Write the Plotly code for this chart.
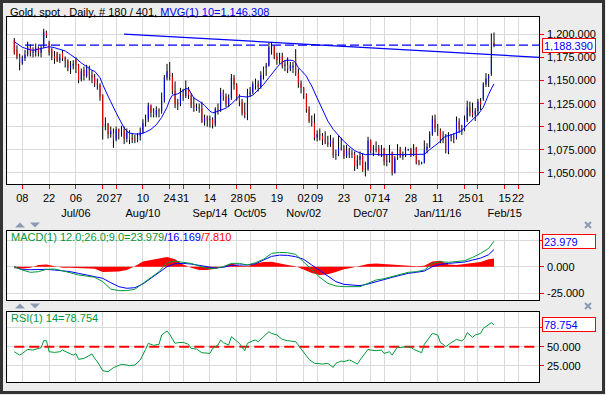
import plotly.graph_objects as go
import pandas as pd

# ---------------- data ----------------
START = "2015-06-03"          # first daily bar
AXIS_END = "2016-03-04"       # axis runs past the last bar

OPEN = [1194,1183,1176,1169,1174,1178,1186,1180,1181,1185,1180,1187,1202,1191,1184,1176,1180,1172,1180,1175,
        1171,1163,1166,1173,1167,1151,1161,1155,1162,1156,1153,1147,1145,1134,1100,1103,1092,1093,1086,1097,
        1094,1096,1087,1094,1088,1086,1085,1090,1094,1104,1108,1123,1115,1113,1118,1117,1128,1153,1160,1154,
        1139,1126,1124,1134,1133,1140,1134,1123,1119,1121,1120,1105,1110,1107,1108,1102,1119,1118,1137,1133,
        1124,1131,1153,1145,1133,1127,1115,1113,1135,1137,1144,1146,1143,1156,1164,1166,1186,1187,1176,1172,
        1176,1166,1167,1162,1164,1174,1158,1147,1142,1135,1119,1106,1104,1088,1092,1090,1086,1083,1081,1085,
        1069,1070,1077,1076,1068,1074,1071,1070,1057,1064,1068,1053,1054,1085,1074,1075,1076,1071,1076,1062,
        1063,1072,1050,1066,1075,1068,1069,1074,1075,1069,1077,1061,1060,1061,1075,1078,1092,1108,1098,1096,
        1086,1087,1073,1088,1089,1088,1106,1096,1097,1107,1121,1115,1113,1117,1127,1130,1146,1152,1157,1191]
HIGH = [1196,1188,1179,1177,1183,1192,1189,1186,1190,1187,1188,1206,1204,1193,1185,1182,1181,1179,1183,1176,
        1173,1171,1172,1175,1168,1163,1165,1167,1166,1161,1157,1152,1147,1135,1110,1104,1100,1098,1100,1098,
        1101,1100,1098,1096,1093,1091,1093,1099,1108,1113,1126,1124,1120,1122,1120,1137,1156,1168,1170,1158,
        1149,1130,1142,1141,1150,1143,1136,1132,1125,1125,1127,1113,1112,1112,1110,1121,1125,1142,1140,1136,
        1135,1157,1156,1147,1135,1130,1126,1141,1143,1149,1152,1150,1160,1165,1169,1191,1191,1188,1180,1180,
        1180,1172,1175,1170,1170,1184,1163,1150,1143,1136,1122,1112,1114,1096,1098,1093,1095,1090,1091,1088,
        1075,1090,1088,1080,1080,1077,1075,1073,1069,1073,1071,1062,1089,1086,1080,1084,1080,1080,1077,1070,
        1080,1073,1068,1081,1078,1073,1078,1076,1077,1081,1078,1064,1062,1085,1082,1095,1112,1113,1103,1098,
        1095,1092,1094,1092,1093,1111,1109,1102,1112,1128,1127,1126,1120,1130,1131,1148,1158,1157,1201,1202]
LOW = [1178,1173,1161,1167,1171,1176,1176,1175,1176,1176,1175,1185,1196,1177,1172,1168,1170,1169,1171,1164,
       1160,1157,1162,1158,1147,1149,1150,1153,1150,1147,1143,1140,1128,1086,1096,1087,1088,1077,1084,1086,
       1089,1081,1083,1081,1082,1082,1083,1085,1092,1100,1105,1110,1110,1110,1110,1114,1126,1150,1150,1135,
       1120,1118,1122,1128,1131,1130,1120,1116,1117,1115,1104,1101,1100,1099,1098,1100,1113,1116,1128,1121,
       1121,1129,1140,1128,1122,1112,1109,1107,1132,1135,1140,1138,1141,1151,1155,1165,1178,1173,1167,1168,
       1163,1160,1158,1160,1158,1155,1142,1136,1130,1115,1104,1100,1085,1084,1085,1080,1081,1078,1078,1066,
       1064,1068,1074,1065,1066,1066,1066,1052,1054,1058,1051,1046,1052,1071,1068,1072,1068,1067,1058,1057,
       1061,1047,1049,1064,1066,1064,1067,1074,1067,1068,1059,1058,1059,1060,1071,1077,1090,1094,1090,1082,
       1082,1071,1070,1084,1082,1086,1093,1091,1095,1105,1111,1110,1106,1112,1118,1128,1143,1143,1155,1186]
CLOSE = [1180,1176,1169,1174,1178,1186,1180,1181,1185,1180,1185,1203,1199,1180,1176,1174,1171,1174,1174,1171,
         1163,1166,1168,1166,1150,1160,1155,1163,1156,1153,1147,1145,1132,1100,1103,1092,1095,1086,1097,1094,
         1096,1087,1094,1086,1086,1085,1090,1094,1104,1108,1123,1115,1113,1118,1117,1128,1153,1160,1154,1139,
         1124,1124,1134,1133,1140,1134,1123,1121,1121,1120,1105,1110,1107,1108,1102,1119,1118,1137,1133,1124,
         1131,1153,1145,1133,1127,1115,1113,1137,1137,1146,1146,1143,1156,1164,1166,1186,1187,1176,1172,1176,
         1166,1167,1162,1166,1166,1158,1147,1142,1135,1119,1106,1104,1088,1092,1090,1086,1083,1081,1085,1069,
         1070,1077,1076,1068,1074,1070,1070,1057,1064,1068,1053,1054,1085,1074,1075,1076,1071,1076,1062,1063,
         1072,1050,1066,1075,1068,1069,1075,1075,1069,1077,1061,1060,1061,1075,1078,1092,1108,1098,1096,1086,
         1087,1073,1089,1089,1088,1106,1097,1097,1107,1121,1115,1113,1117,1127,1124,1146,1152,1155,1175,1188.39]

# 10-day moving average (bar number, value)
MA_BAR = [0,1,3,5,7,9,11,13,15,17,19,21,23,25,27,29,30,31,32,33,34,35,36,37,38,39,40,41,42,43,45,47,49,51,53,55,
          57,58,59,61,63,64,65,66,67,69,71,73,74,75,77,79,81,83,84,85,87,89,91,93,95,96,97,98,99,100,101,102,103,
          104,105,106,107,108,109,110,111,113,115,117,119,121,123,125,127,129,131,134,137,140,143,146,149,152,153,
          155,157,159,160,161,163,165,166,167,169,171,173,175,176,177,178,179]
MA_VAL = [1192,1190,1186,1184,1182.6,1184,1185.5,1186.6,1185.5,1183.7,1182,1178,1174,1169,1164.5,1161,1160,1156.5,
          1153,1145.6,1140,1133,1127,1120,1115,1109.4,1104,1098.6,1095,1093,1092,1092,1094,1097,1102,1110,1121,1129,
          1134,1135.5,1139,1141,1141,1136.6,1131,1127.5,1123,1116.7,1115,1115.6,1117.8,1120,1124.6,1131,1133,1132.6,
          1132,1134,1140,1145.6,1153,1157,1161,1164,1167.4,1170,1171.7,1172,1172,1171.7,1169,1164,1161,1158,1154.7,
          1149,1144,1131,1118,1106,1097,1090,1084,1078.6,1074,1071.4,1069.6,1070.2,1069.4,1069.8,1069.3,1069.6,
          1069.9,1069.6,1070,1075,1079.3,1084,1087.7,1089.5,1091,1093,1094,1095.6,1102,1107.6,1113,1121,1129,1135,
          1141,1146.308]

# MACD(12,26,9): sampled every third bar, plus the last bar
MACD_BAR = [0,3,6,9,12,15,18,21,24,27,30,33,36,39,42,45,48,51,54,57,60,63,66,69,72,75,78,81,84,87,90,93,96,99,
            102,105,108,111,114,117,120,123,126,129,132,135,138,141,144,147,150,153,156,159,162,165,168,171,174,
            177,179]
MACD_VAL = [0.0,-3.1,-5.3,-4.7,-2.5,-2.2,-3.8,-5.6,-7.8,-8.8,-10.0,-14.0,-21.0,-22.5,-22.5,-21.2,-15.6,-10.0,-4.7,
            3.8,5.3,4.1,3.1,0.6,-1.6,-1.6,0.0,3.1,3.1,1.6,3.8,6.9,12.5,13.4,13.1,11.6,4.7,-3.1,-10.0,-15.6,-18.1,
            -18.75,-18.75,-18.75,-15.6,-12.5,-11.25,-9.4,-7.2,-5.3,-4.7,-3.1,3.1,4.7,4.1,4.7,5.6,8.75,12.5,17.2,23.979]
SIGNAL_VAL = [0.0,-2.8,-2.8,-2.5,-2.5,-3.1,-3.8,-4.7,-6.25,-7.8,-9.4,-10.9,-15.0,-18.75,-20.3,-19.7,-16.25,-10.9,
              -5.6,0.0,2.8,3.1,2.5,1.25,-0.3,-1.25,-0.6,1.25,1.6,1.6,2.8,6.25,9.7,10.9,10.6,9.4,6.9,1.6,-3.75,-9.4,
              -14.0,-16.6,-17.5,-17.8,-16.25,-14.0,-11.9,-10.0,-8.1,-6.25,-5.3,-4.1,0.0,2.2,3.1,3.75,4.4,6.25,8.1,
              11.25,16.169]
HIST_VAL = [-1.5,-2.0,-1.0,1.5,2.0,0.5,-1.0,-1.0,-1.2,-1.5,-2.0,-5.0,-5.0,-4.5,-3.0,0.5,5.0,6.5,7.5,9.0,7.0,2.0,
            -1.0,-3.0,-3.0,-2.0,0.5,3.0,1.0,0.5,3.0,4.5,4.7,3.0,1.5,0.5,-3.0,-6.0,-7.8,-7.0,-5.0,-2.5,-1.0,0.5,2.5,
            3.0,2.5,2.0,2.0,1.5,0.5,1.0,5.0,5.5,2.0,1.5,2.5,3.5,4.5,7.0,7.81]

# RSI(14)
RSI_BAR = [0,2,3,5,7,8,10,11,12,13,15,17,18,21,22,23,24,26,27,29,30,31,33,35,37,38,40,42,43,45,47,49,50,52,54,55,
           57,58,60,61,63,65,66,68,69,70,73,74,76,77,78,80,81,83,84,86,87,89,90,91,93,95,96,98,100,102,105,107,
           109,110,112,115,117,119,120,122,123,125,126,128,129,130,132,133,135,137,138,140,141,143,144,146,148,149,
           151,152,153,155,156,158,159,160,161,163,165,167,168,169,171,172,174,175,177,178,179]
RSI_VAL = [43.4,39.0,41.0,46.5,45.6,46.5,48.7,57.9,57.9,43.4,42.5,43.4,45.6,40.4,39.0,41.0,33.3,34.6,36.8,40.4,34.6,
           30.3,18.4,17.1,22.4,23.7,26.8,25.9,25.0,25.9,32.5,46.5,54.4,51.8,53.1,65.4,70.6,66.2,54.4,55.3,55.7,53.1,
           47.8,46.9,44.7,42.1,41.2,47.8,52.2,58.8,55.3,52.2,63.2,56.6,54.4,44.7,54.4,57.9,58.8,56.6,63.2,69.7,67.5,
           65.4,59.6,57.9,56.6,47.8,39.0,33.3,28.1,27.2,28.1,22.8,28.1,31.1,30.3,32.5,31.1,27.2,32.5,37.7,46.5,45.6,
           44.7,45.6,41.2,43.4,39.0,50.0,48.7,50.0,49.1,46.5,43.4,42.1,53.1,63.2,67.5,65.4,55.3,53.1,50.0,55.3,59.6,
           57.5,61.0,68.4,62.3,65.4,67.5,74.1,79.8,81.6,78.754]

# drawn trend line (bar number, price)
TREND_BAR = [41, 196]
TREND_VAL = [1200.3, 1175.1]

TICK_DATES = ["2015-06-08","2015-06-22","2015-07-06","2015-07-20","2015-07-27","2015-08-10","2015-08-24",
              "2015-08-31","2015-09-14","2015-09-28","2015-10-05","2015-10-19","2015-11-02","2015-11-09",
              "2015-11-23","2015-12-07","2015-12-14","2015-12-28","2016-01-11","2016-01-25","2016-02-01",
              "2016-02-15","2016-02-22"]
TICK_DAY = ["08","22","06","20","27","10","24","31","14","28","05","19","02","09","23","07","14","28","11","25",
            "01","15","22"]
TICK_MONTH = ["","","Jul/06","","","Aug/10","","","Sep/14","","Oct/05","","Nov/02","","","Dec/07","","",
              "Jan/11/16","","","Feb/15",""]

PRICE_TICKS = [1050, 1075, 1100, 1125, 1150, 1175, 1200]
MACD_TICKS = [-25, 0, 25]
RSI_TICKS = [25, 50, 75]
RSI_MID = 50

# ---------------- figure ----------------
W, H = 606, 395
FONT = "Liberation Sans, Arial, sans-serif"
GREEN = "#00993a"
GRID = "#d9d9d9"


def px(x):
    return x / W


def py(y):
    return 1 - y / H


cats = pd.bdate_range(START, AXIS_END).strftime("%Y-%m-%d").tolist()
bars = cats[:len(CLOSE)]


def at(idx):
    return [cats[i] for i in idx]


fig = go.Figure()

# wicks
wx, wy = [], []
for d, lo, hi in zip(bars, LOW, HIGH):
    wx += [d, d, None]
    wy += [lo, hi, None]
fig.add_trace(go.Scatter(x=wx, y=wy, mode="lines", line=dict(color="black", width=1),
                         hoverinfo="skip", xaxis="x", yaxis="y"))
# bodies
ux, uy, dx, dy = [], [], [], []
for d, o, c in zip(bars, OPEN, CLOSE):
    if c > o:
        ux += [d, d, None]; uy += [o, c, None]
    elif c < o:
        dx += [d, d, None]; dy += [o, c, None]
fig.add_trace(go.Scatter(x=ux, y=uy, mode="lines", line=dict(color="#0000ff", width=1),
                         hoverinfo="skip", xaxis="x", yaxis="y"))
fig.add_trace(go.Scatter(x=dx, y=dy, mode="lines", line=dict(color="#ff0000", width=1),
                         hoverinfo="skip", xaxis="x", yaxis="y"))
# moving average
fig.add_trace(go.Scatter(x=at(MA_BAR), y=MA_VAL, mode="lines", line=dict(color="#0000ff", width=1),
                         xaxis="x", yaxis="y"))
# trend line
fig.add_trace(go.Scatter(x=at(TREND_BAR), y=TREND_VAL, mode="lines", line=dict(color="#0000ff", width=1.3),
                         xaxis="x", yaxis="y"))
# last close dashed
fig.add_trace(go.Scatter(x=[cats[4], cats[-1]], y=[CLOSE[-1], CLOSE[-1]], mode="lines",
                         line=dict(color="#0000ff", width=1.3, dash="9px,4px"), xaxis="x", yaxis="y"))

# MACD panel
fig.add_trace(go.Scatter(x=at(MACD_BAR), y=HIST_VAL, mode="lines", line=dict(width=0, color="red"),
                         fill="tozeroy", fillcolor="#ff0000", xaxis="x2", yaxis="y2"))
fig.add_trace(go.Scatter(x=at(MACD_BAR), y=SIGNAL_VAL, mode="lines", line=dict(color="#0000ff", width=1),
                         xaxis="x2", yaxis="y2"))
fig.add_trace(go.Scatter(x=at(MACD_BAR), y=MACD_VAL, mode="lines", line=dict(color=GREEN, width=1),
                         xaxis="x2", yaxis="y2"))

# RSI panel
fig.add_trace(go.Scatter(x=[cats[0], cats[-1]], y=[RSI_MID, RSI_MID], mode="lines",
                         line=dict(color="#ff0000", width=2, dash="10px,5px"), xaxis="x3", yaxis="y3"))
fig.add_trace(go.Scatter(x=at(RSI_BAR), y=RSI_VAL, mode="lines", line=dict(color=GREEN, width=1),
                         xaxis="x3", yaxis="y3"))

XR = [-2.6, 195.9]
xcommon = dict(type="category", categoryorder="array", categoryarray=cats, range=XR, automargin=False,
               domain=[px(7.3), px(539.3)], tickmode="array", tickvals=TICK_DATES, tickangle=0,
               showgrid=True, gridcolor=GRID, gridwidth=1, showline=True, mirror=True,
               linecolor="black", linewidth=1, zeroline=False, fixedrange=True)
ticktext = [d + ("<br>" + m if m else "") for d, m in zip(TICK_DAY, TICK_MONTH)]

ycommon = dict(side="right", showgrid=True, gridcolor=GRID, gridwidth=1, showline=True, mirror=True,
               linecolor="black", linewidth=1, zeroline=False, ticks="outside", ticklen=4,
               tickcolor="#ff0000", tickwidth=1, tickmode="array", automargin=False,
               showticklabels=False, fixedrange=True)

fig.update_layout(
    template="none",
    width=W, height=H, margin=dict(l=0, r=0, t=0, b=0, pad=0),
    paper_bgcolor="#ececec", plot_bgcolor="white",
    font=dict(family=FONT, size=11, color="black"),
    showlegend=False,
    xaxis=dict(xcommon, anchor="y", ticktext=ticktext, ticks="outside", ticklen=4, tickcolor="#ff0000",
               tickfont=dict(family=FONT, size=11, color="black")),
    xaxis2=dict(xcommon, anchor="y2", showticklabels=False, ticks=""),
    xaxis3=dict(xcommon, anchor="y3", showticklabels=False, ticks=""),
    yaxis=dict(ycommon, anchor="x", domain=[py(184), py(16.7)], range=[1037.8, 1219.1], tickvals=PRICE_TICKS),
    yaxis2=dict(ycommon, anchor="x2", domain=[py(300), py(231)], range=[-31.3, 33.55], tickvals=MACD_TICKS),
    yaxis3=dict(ycommon, anchor="x3", domain=[py(382), py(311.7)], range=[3.55, 96.05], tickvals=RSI_TICKS),
)

ann = []
ann.append(dict(xref="paper", yref="paper", x=px(8), y=py(11.7), xanchor="left", yanchor="middle",
                showarrow=False, font=dict(family=FONT, size=11, color="black"),
                text=f"Gold, spot , Daily, # {len(CLOSE)} / 401, "
                     f"<span style='color:#0000ff'>MVG(1) 10={MA_VAL[-1]:,.3f}</span>"))
ann.append(dict(xref="paper", yref="paper", x=px(8.5), y=py(236.7), xanchor="left", yanchor="middle",
                showarrow=False, font=dict(family=FONT, size=11, color=GREEN),
                text=f"MACD(1) 12.0;26.0;9.0={MACD_VAL[-1]:.3f}"
                     f"<span style='color:#0000ff'>/{SIGNAL_VAL[-1]:.3f}</span>"
                     f"<span style='color:#ff0000'>/{HIST_VAL[-1]:.3f}</span>"))
ann.append(dict(xref="paper", yref="paper", x=px(8.5), y=py(318), xanchor="left", yanchor="middle",
                showarrow=False, font=dict(family=FONT, size=11, color=GREEN),
                text=f"RSI(1) 14={RSI_VAL[-1]:.3f}"))

# right-hand value labels (left aligned just after the red ticks)
for ticks, yref, fmt, hidden in [(PRICE_TICKS, "y", ",.3f", None), (MACD_TICKS, "y2", ".3f", 25),
                                 (RSI_TICKS, "y3", ".3f", 75)]:
    for v in ticks:
        if v == hidden:
            continue
        ann.append(dict(xref="paper", yref=yref, x=px(544.5), y=v, xanchor="left", yanchor="middle",
                        showarrow=False, text=format(v, fmt),
                        font=dict(family=FONT, size=11, color="black")))

for val, yref, txt in [(CLOSE[-1], "y", f"{CLOSE[-1]:,.3f}"),
                       (MACD_VAL[-1], "y2", f"{MACD_VAL[-1]:.3f}"),
                       (RSI_VAL[-1], "y3", f"{RSI_VAL[-1]:.3f}")]:
    ann.append(dict(xref="paper", yref=yref, x=px(542), y=val, xanchor="left", yanchor="middle",
                    showarrow=False, text=txt, align="left", width=50, height=11,
                    font=dict(family=FONT, size=11, color="#0000ff"),
                    bgcolor="white", bordercolor="#ff0000", borderwidth=1, borderpad=1))
fig.update_layout(annotations=ann)

shapes = []
# outer frame
shapes.append(dict(type="rect", xref="paper", yref="paper", x0=px(1.5), x1=px(603.5), y0=py(392.5), y1=py(1.5),
                   line=dict(color="#333333", width=3), layer="above"))
ARROW = "#8b9ab4"
for ytop in (222.5, 303.5):
    yb = ytop + 5
    shapes.append(dict(type="path", xref="paper", yref="paper",
                       path=f"M {px(15)},{py(yb)} L {px(25)},{py(yb)} L {px(20)},{py(ytop)} Z",
                       fillcolor=ARROW, line=dict(width=0)))
    shapes.append(dict(type="path", xref="paper", yref="paper",
                       path=f"M {px(30)},{py(ytop)} L {px(40)},{py(ytop)} L {px(35)},{py(yb)} Z",
                       fillcolor=ARROW, line=dict(width=0)))
    shapes.append(dict(type="line", xref="paper", yref="paper", x0=px(585), x1=px(591),
                       y0=py(ytop - 0.5), y1=py(yb + 0.5), line=dict(color=ARROW, width=2)))
    shapes.append(dict(type="line", xref="paper", yref="paper", x0=px(585), x1=px(591),
                       y0=py(yb + 0.5), y1=py(ytop - 0.5), line=dict(color=ARROW, width=2)))
fig.update_layout(shapes=shapes)

fig.write_html("out.html", config={"displayModeBar": False},
               post_script="document.body.style.margin='0';document.body.style.overflow='hidden';")
